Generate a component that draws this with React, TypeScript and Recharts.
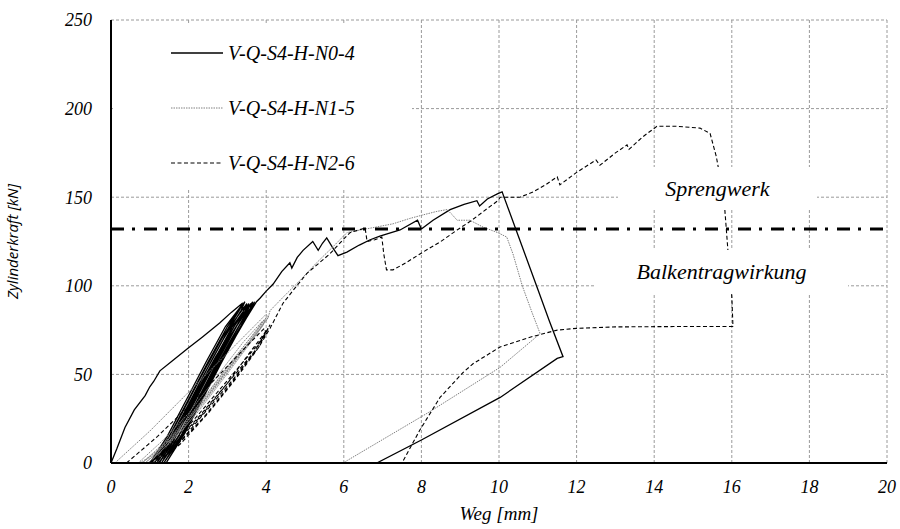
import React from "react";
import {
  LineChart, Line, XAxis, YAxis, CartesianGrid, ReferenceLine
} from "recharts";

// Weg [mm], Zylinderkraft [kN]
const xTicks = [0, 2, 4, 6, 8, 10, 12, 14, 16, 18, 20];
const yTicks = [0, 50, 100, 150, 200, 250];
const grenzKraft = 132;

const seriesNames = ["V-Q-S4-H-N0-4", "V-Q-S4-H-N1-5", "V-Q-S4-H-N2-6"];

const n04: [number, number][] = [
  [0, 0], [0.15, 8], [0.36, 20], [0.6, 30], [0.88, 38], [1.0, 43], [1.1, 46], [1.26, 52],
  [1.6, 58], [2.0, 65], [2.35, 71], [2.8, 79], [3.1, 85], [3.38, 90], [3.42, 86],
  [3.2, 78], [2.7, 60], [2.2, 40], [1.7, 20], [1.3, 5], [1.0, 0],
  [1.45, 15], [1.95, 36], [2.45, 57], [2.95, 77], [3.4, 90],
  [3.3, 86], [2.85, 70], [2.35, 50], [1.85, 29], [1.35, 9], [1.05, 0],
  [1.5, 15], [2.0, 36], [2.5, 57], [3.0, 77], [3.45, 91],
  [3.35, 86], [2.9, 70], [2.4, 50], [1.9, 29], [1.4, 9], [1.12, 0],
  [1.57, 15], [2.07, 36], [2.57, 57], [3.07, 77], [3.5, 90],
  [3.4, 85], [2.95, 69], [2.45, 49], [1.95, 28], [1.46, 9], [1.18, 0],
  [1.63, 15], [2.13, 36], [2.63, 57], [3.13, 77], [3.55, 90],
  [3.45, 85], [3.0, 69], [2.5, 49], [2.0, 28], [1.52, 9], [1.24, 0],
  [1.7, 16], [2.2, 37], [2.7, 58], [3.2, 78], [3.6, 90],
  [3.5, 85], [3.05, 68], [2.55, 48], [2.05, 27], [1.58, 9], [1.3, 0],
  [1.76, 16], [2.26, 37], [2.76, 58], [3.26, 78], [3.65, 91],
  [3.55, 85], [3.1, 68], [2.6, 48], [2.1, 27], [1.64, 9], [1.36, 0],
  [1.82, 16], [2.32, 37], [2.82, 58], [3.32, 78], [3.7, 91],
  [3.6, 86], [3.15, 69], [2.65, 49], [2.15, 28], [1.7, 10], [1.42, 0],
  [1.88, 16], [2.38, 37], [2.88, 58], [3.38, 78], [3.75, 91],
  [3.84, 93], [4.0, 97], [4.18, 101], [4.4, 108], [4.61, 113], [4.66, 110], [4.8, 116],
  [4.95, 120], [5.2, 125], [5.34, 120], [5.45, 124], [5.56, 127], [5.7, 122], [5.85, 117],
  [6.08, 119], [6.4, 123], [6.68, 126], [6.93, 128], [7.45, 131.5], [7.9, 137], [8.0, 132],
  [8.3, 137], [8.74, 143], [9.1, 146], [9.43, 148], [9.5, 145], [9.7, 149], [9.97, 152],
  [10.08, 153], [10.5, 128], [11.0, 98], [11.3, 80], [11.65, 60], [11.5, 59],
  [10.03, 37], [8.0, 13], [6.85, 0],
];

const n15: [number, number][] = [
  [0.1, 0], [1.0, 18], [2.0, 40], [3.0, 62], [4.0, 84], [4.05, 82],
  [3.7, 72], [3.1, 55], [2.4, 35], [1.6, 14], [0.9, 2], [0.7, 0],
  [1.3, 12], [2.0, 28], [2.7, 48], [3.4, 68], [3.9, 80],
  [3.8, 76], [3.2, 60], [2.5, 40], [1.8, 20], [1.1, 5], [0.8, 0],
  [1.4, 12], [2.1, 28], [2.8, 48], [3.5, 68], [3.95, 81],
  [3.85, 76], [3.25, 60], [2.55, 40], [1.85, 20], [1.15, 5], [0.88, 0],
  [1.48, 12], [2.18, 29], [2.88, 49], [3.55, 68], [4.0, 82],
  [3.9, 77], [3.3, 60], [2.6, 40], [1.9, 20], [1.2, 5], [0.95, 0],
  [1.55, 12], [2.25, 29], [2.95, 49], [3.6, 68], [4.05, 82],
  [4.1, 86], [4.5, 95], [4.87, 103], [5.3, 113], [5.72, 122], [6.08, 130], [6.42, 131.5],
  [6.8, 133], [7.27, 135], [7.7, 138], [8.04, 140], [8.4, 142], [8.66, 143], [8.8, 140],
  [8.92, 137], [9.25, 137], [9.6, 133], [9.97, 130], [10.2, 127.5], [10.36, 118],
  [10.6, 100], [10.85, 85], [11.06, 73], [10.03, 54], [8.22, 29], [5.98, 0],
];

const n26: [number, number][] = [
  [0.4, 0], [1.2, 15], [2.0, 32], [2.8, 50], [3.5, 66], [3.95, 76], [4.0, 73],
  [3.6, 62], [2.9, 44], [2.2, 26], [1.5, 9], [1.0, 0],
  [1.6, 10], [2.3, 26], [3.0, 45], [3.6, 63], [4.05, 76],
  [3.7, 63], [3.0, 45], [2.3, 27], [1.6, 10], [1.1, 0],
  [1.7, 10], [2.4, 26], [3.1, 45], [3.7, 63], [4.1, 78],
  [3.8, 65], [3.1, 46], [2.4, 28], [1.7, 10], [1.2, 0],
  [1.8, 11], [2.5, 28], [3.2, 47], [3.8, 65], [4.1, 76],
  [4.43, 90], [4.75, 99], [5.05, 107], [5.64, 118], [5.98, 126], [6.16, 130], [6.55, 132.6],
  [6.6, 125], [6.8, 126], [6.98, 127.5], [7.03, 118], [7.1, 109], [7.27, 109], [7.6, 113],
  [8.04, 119], [8.5, 125], [8.92, 131.5], [9.3, 137], [9.6, 142], [9.97, 148], [10.03, 150],
  [10.3, 150], [10.54, 150], [10.88, 153], [11.2, 157], [11.5, 161.5], [11.57, 157],
  [12.0, 164], [12.5, 171], [12.6, 168], [13.0, 175], [13.3, 179.5], [13.35, 177],
  [13.7, 184], [14.07, 190], [14.6, 190], [15.18, 189], [15.44, 186], [15.6, 173],
  [15.75, 155], [15.82, 143], [15.9, 120], [16.0, 94], [16.03, 77], [14.5, 77], [13.0, 76.8],
  [12.0, 76], [11.5, 75], [10.8, 71], [10.03, 65.5], [9.33, 56], [9.07, 51], [8.48, 37],
  [7.96, 18.6], [7.5, 0],
];

const toRows = (pts: [number, number][]) => pts.map(([x, y]) => ({ x, y }));

const serif = "Liberation Serif";
const tickStyle = { fontFamily: serif, fontStyle: "italic", fontSize: 18, fill: "#000" };

const styles = [
  { stroke: "#000", width: 1.3, dash: undefined as string | undefined },
  { stroke: "#808080", width: 1, dash: "1.5 1" },
  { stroke: "#000", width: 1.1, dash: "4 2.5" },
];

const legendRows = [53, 108, 163];

export default function App() {
  const all = [n04, n15, n26];
  return (
    <div style={{ position: "absolute", left: 0, top: 0, width: 900, height: 529, background: "#fff" }}>
      <LineChart width={900} height={529} margin={{ top: 20, right: 13, left: 0, bottom: 0 }}>
        <CartesianGrid stroke="#9a9a9a" strokeDasharray="3 2" />
        <XAxis
          type="number" dataKey="x" domain={[0, 20]} ticks={xTicks} allowDataOverflow
          height={66} tickLine={false} tickSize={6} tickMargin={11}
          axisLine={{ stroke: "#000", strokeWidth: 2 }} tick={tickStyle}
          label={{ value: "Weg [mm]", position: "insideBottom", offset: 9,
            style: { fontFamily: serif, fontStyle: "italic", fontSize: 19, fill: "#000" } }}
        />
        <YAxis
          type="number" dataKey="y" domain={[0, 250]} ticks={yTicks} allowDataOverflow
          width={111} tickLine={false} tickSize={6} tickMargin={13}
          axisLine={{ stroke: "#000", strokeWidth: 2 }} tick={tickStyle}
          label={{ value: "Zylinderkraft  [kN]", angle: -90, position: "insideLeft", offset: 19, dx: -6,
            style: { fontFamily: "Open Sans", fontStyle: "italic", fontSize: 15,
              fill: "#000", textAnchor: "middle" } }}
        />
        {all.map((pts, i) => (
          <Line
            key={seriesNames[i]} name={seriesNames[i]} data={toRows(pts)} dataKey="y"
            type="linear" dot={false} activeDot={false} isAnimationActive={false}
            stroke={styles[i].stroke} strokeWidth={styles[i].width} strokeDasharray={styles[i].dash}
          />
        ))}
        <ReferenceLine y={grenzKraft} stroke="#000" strokeWidth={3} strokeDasharray="13 8 3 9" />
      </LineChart>

      {/* legend box, white, covers the grid */}
      <div style={{ position: "absolute", left: 113, top: 25, width: 299, height: 165, background: "#fff" }} />
      {seriesNames.map((n, i) => (
        <div key={n} style={{ position: "absolute", left: 171, top: legendRows[i] - 14, height: 28,
          display: "flex", alignItems: "center" }}>
          <svg width={52} height={4} style={{ display: "block" }}>
            <line x1={0} x2={52} y1={2} y2={2} stroke={styles[i].stroke}
              strokeWidth={styles[i].width} strokeDasharray={styles[i].dash} />
          </svg>
          <span style={{ marginLeft: 5, fontFamily: serif, fontStyle: "italic", fontSize: 20, whiteSpace: "nowrap" }}>{n}</span>
        </div>
      ))}

      <div style={{ position: "absolute", left: 618, top: 167, width: 199, height: 43, background: "#fff",
        display: "flex", alignItems: "center", justifyContent: "center",
        fontFamily: serif, fontStyle: "italic", fontSize: 22 }}>Sprengwerk</div>
      <div style={{ position: "absolute", left: 595, top: 250, width: 253, height: 43, background: "#fff",
        display: "flex", alignItems: "center", justifyContent: "center",
        fontFamily: serif, fontStyle: "italic", fontSize: 22 }}>Balkentragwirkung</div>
    </div>
  );
}
